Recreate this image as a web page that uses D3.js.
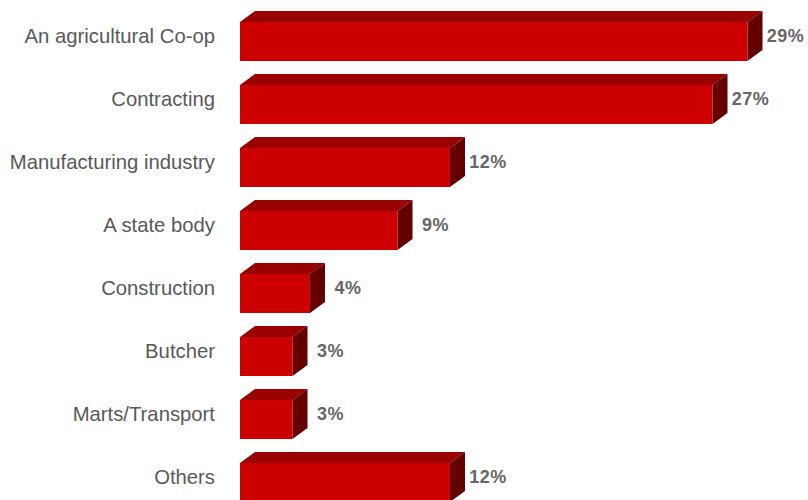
<!DOCTYPE html>
<html lang="en">
<head>
    <meta charset="UTF-8">
    <title>3D Bar Chart</title>
    <script src="https://d3js.org/d3.v7.min.js"></script>
    <style>
        html, body {
            margin: 0;
            padding: 0;
            background: #fff;
            overflow: hidden;
        }
        .cat {
            font-family: "Liberation Sans", Arial, sans-serif;
            font-size: 20.3px;
            fill: #595959;
        }
        .val {
            font-family: "Liberation Sans", Arial, sans-serif;
            font-size: 18px;
            font-weight: bold;
            fill: #666;
        }
    </style>
</head>
<body>
    <div id="chart"></div>
    <script>
        const categories = ["An agricultural Co-op", "Contracting", "Manufacturing industry",
            "A state body", "Construction", "Butcher", "Marts/Transport", "Others"];
        const values = [29, 27, 12, 9, 4, 3, 3, 12];
        const valueLabels = ["29%", "27%", "12%", "9%", "4%", "3%", "3%", "12%"];

        const w = 808;
        const h = 500;
        const dx = 15;   // depth of the 3D box
        const dy = 11;

        const data = categories.map((c, i) => ({ cat: c, v: values[i], label: valueLabels[i] }));

        const svg = d3.select("#chart")
            .append("svg")
            .attr("width", w)
            .attr("height", h);

        const xScale = d3.scaleLinear()
            .domain([0, 30])
            .range([240, 765]);

        const yScale = d3.scaleBand()
            .domain(categories)
            .range([4.5, 508.5])
            .paddingInner(13 / 63)
            .paddingOuter(6.5 / 63);

        const x0 = xScale(0);

        const g = svg.selectAll(".bar")
            .data(data)
            .enter()
            .append("g")
            .attr("class", "bar");

        // top face
        g.append("path")
            .attr("fill", "#990000")
            .attr("d", d => {
                const y = yScale(d.cat) + dy;
                const x1 = xScale(d.v);
                return `M${x0},${y}L${x0 + dx},${y - dy}L${x1 + dx},${y - dy}L${x1},${y}Z`;
            });

        // side face
        g.append("path")
            .attr("fill", "#650000")
            .attr("d", d => {
                const y = yScale(d.cat) + dy;
                const yb = yScale(d.cat) + yScale.bandwidth();
                const x1 = xScale(d.v);
                return `M${x1},${y}L${x1 + dx},${y - dy}L${x1 + dx},${yb - dy}L${x1},${yb}Z`;
            });

        // front face
        g.append("rect")
            .attr("fill", "#cc0000")
            .attr("x", x0)
            .attr("y", d => yScale(d.cat) + dy)
            .attr("width", d => xScale(d.v) - x0)
            .attr("height", yScale.bandwidth() - dy);

        // value labels, centred a little past the box
        g.append("text")
            .attr("class", "val")
            .attr("x", d => xScale(d.v) + dx + 23)
            .attr("y", d => yScale(d.cat) + yScale.bandwidth() / 2)
            .attr("dy", "0.35em")
            .attr("text-anchor", "middle")
            .attr("letter-spacing", "0.5px")
            .text(d => d.label);

        // category labels
        svg.selectAll(".cat")
            .data(data)
            .enter()
            .append("text")
            .attr("class", "cat")
            .attr("x", 215)
            .attr("y", d => yScale(d.cat) + yScale.bandwidth() / 2)
            .attr("dy", "0.35em")
            .attr("text-anchor", "end")
            .text(d => d.cat);
    </script>
</body>
</html>
